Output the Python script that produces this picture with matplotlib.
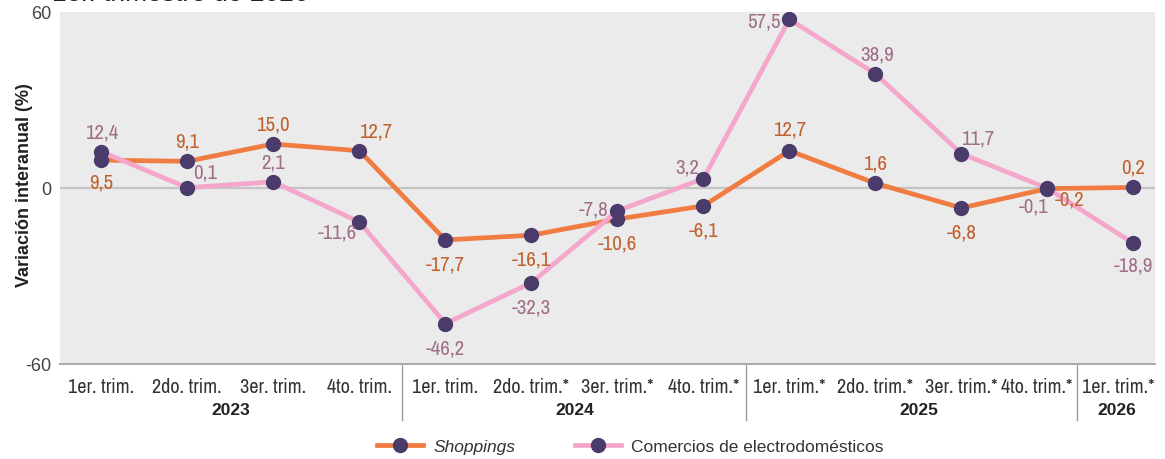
import matplotlib
matplotlib.use("Agg")
import matplotlib.pyplot as plt
from matplotlib.lines import Line2D
from matplotlib import font_manager as fm

# ---------------- data ----------------
quarters = ["1er. trim.", "2do. trim.", "3er. trim.", "4to. trim.",
            "1er. trim.", "2do. trim.*", "3er. trim.*", "4to. trim.*",
            "1er. trim.*", "2do. trim.*", "3er. trim.*", "4to. trim.*",
            "1er. trim.*"]
years = ["2023", "2024", "2025", "2026"]
year_sizes = [4, 4, 4, 1]
shoppings = [9.5, 9.1, 15.0, 12.7, -17.7, -16.1, -10.6, -6.1, 12.7, 1.6, -6.8, -0.2, 0.2]
electro = [12.4, 0.1, 2.1, -11.6, -46.2, -32.3, -7.8, 3.2, 57.5, 38.9, 11.7, -0.1, -18.9]

# label offsets (pixels) — style only
shop_off = [(0, -22), (0, 20), (0, 20), (16, 20), (0, -24), (0, -24), (0, -24),
            (0, -24), (0, 22), (0, 20), (0, -24), (22, -10), (0, 20)]
elec_off = [(0, 20), (18, 16), (0, 20), (-22, -10), (0, -24), (0, -24), (-24, 2),
            (-16, 12), (-25, -2), (2, 20), (16, 16), (-14, -18), (0, -22)]

ORANGE = "#f07c42"
PINK = "#f4a7cb"
PURPLE = "#4b3b6b"
ORANGE_TXT = "#c0622e"
PINK_TXT = "#a16e89"

# find a condensed font if any is installed
cond_family = None
cond_stretch = "normal"
for f in fm.fontManager.ttflist:
    n = f.name.lower()
    if "narrow" in n or "condensed" in n:
        cond_family = f.name
        break
if cond_family is None:
    for f in fm.fontManager.ttflist:
        if f.name == "DejaVu Sans" and (f.stretch == "condensed" or f.stretch == 300 or "Condensed" in f.fname):
            cond_family = "DejaVu Sans"
            cond_stretch = "condensed"
            break
if cond_family is None:
    cond_family = "DejaVu Sans"
NARROW = [cond_family, "DejaVu Sans"]
SANS = ["Liberation Sans", "DejaVu Sans"]

fig = plt.figure(figsize=(11.65, 4.60), dpi=100)
ax = fig.add_axes([60 / 1165, 1 - 365 / 460, (1155 - 60) / 1165, (365 - 13) / 460])
ax.set_facecolor("#ebebeb")

x = list(range(len(quarters)))
ax.axhline(0, color="#c4c4c4", lw=1.6, zorder=1)
ax.plot(x, shoppings, color=ORANGE, lw=3.4, marker="o", ms=10,
        mfc=PURPLE, mec=PURPLE, zorder=3)
ax.plot(x, electro, color=PINK, lw=3.4, marker="o", ms=10,
        mfc=PURPLE, mec=PURPLE, zorder=4)

for xi, v, off in zip(x, shoppings, shop_off):
    ax.annotate(f"{v:.1f}".replace(".", ","), (xi, v), xytext=off,
                textcoords="offset pixels", ha="center", va="center",
                color=ORANGE_TXT, fontsize=15, family=NARROW, stretch=cond_stretch, zorder=6)
for xi, v, off in zip(x, electro, elec_off):
    ax.annotate(f"{v:.1f}".replace(".", ","), (xi, v), xytext=off,
                textcoords="offset pixels", ha="center", va="center",
                color=PINK_TXT, fontsize=15, family=NARROW, stretch=cond_stretch, zorder=6)

XMIN, XMAX = -0.48, 12.25
ax.set_ylim(-60, 60)
ax.set_xlim(XMIN, XMAX)
ax.set_yticks([-60, 0, 60])
ax.set_yticklabels(["-60", "0", "60"], fontsize=13, color="#444444", family=SANS)
ax.tick_params(axis="y", length=0, pad=6)
ax.set_xticks([])
for s in ["left", "right", "top"]:
    ax.spines[s].set_visible(False)
ax.spines["bottom"].set_color("#aaaaaa")
ax.spines["bottom"].set_linewidth(1.4)

fig.text(25 / 1165, 1 - 185 / 460, "Variación interanual (%)", rotation=90,
         ha="center", va="center", fontsize=13, fontweight="bold",
         family=SANS, color="#222222")

# quarter labels
trans = ax.get_xaxis_transform()
for xi, q in enumerate(quarters):
    ha = "center"
    xx = xi
    if xi == len(quarters) - 2:
        xx = xi - 0.13
    if xi == len(quarters) - 1:
        ha = "right"
        xx = XMAX
    ax.text(xx, -0.065, q, transform=trans, ha=ha, va="center",
            fontsize=14.5, family=NARROW, stretch=cond_stretch, color="#333333")

# year labels and separators
start = 0
for i, (yr, n) in enumerate(zip(years, year_sizes)):
    center = start + (n - 1) / 2
    sep = start - 0.5
    if i == len(years) - 1:
        center = 11.81
        sep = 11.34
    ax.text(center, -0.128, yr, transform=trans, ha="center", va="center",
            fontsize=12.5, fontweight="bold", family=SANS, color="#222222")
    if i > 0:
        ax.plot([sep, sep], [0, -0.16], transform=trans,
                color="#999999", lw=1, clip_on=False)
    start += n

# legend
handles = [Line2D([], [], color=ORANGE, lw=3.4, marker="o", ms=10, mfc=PURPLE, mec=PURPLE),
           Line2D([], [], color=PINK, lw=3.4, marker="o", ms=10, mfc=PURPLE, mec=PURPLE)]
leg = fig.legend(handles, ["Shoppings", "Comercios de electrodomésticos"],
                 loc="center", bbox_to_anchor=(0.541, 1 - 447 / 460), ncol=2,
                 frameon=False, handlelength=2.65, handletextpad=0.6, columnspacing=3.4,
                 prop={"family": SANS, "size": 12.5})
leg.get_texts()[0].set_style("italic")
for t in leg.get_texts():
    t.set_color("#333333")

# cut-off title at top
fig.text(52 / 1165, 1 - 1 / 460, "1er. trimestre de 2026", ha="left", va="baseline",
         fontsize=19, family=SANS, color="#222222")

fig.savefig("out.png", dpi=100)
